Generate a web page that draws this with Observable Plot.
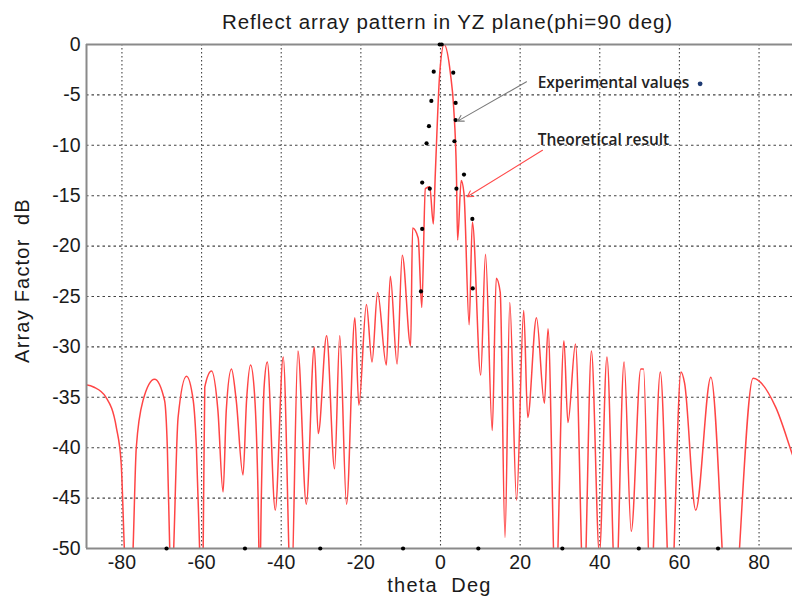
<!DOCTYPE html>
<html><head><meta charset="utf-8">
<script src="https://cdn.jsdelivr.net/npm/d3@7"></script>
<script src="https://cdn.jsdelivr.net/npm/@observablehq/plot@0.6"></script>
<style>
body{margin:0;background:#fff;}
#chart{width:792px;height:601px;overflow:hidden;}
</style>
</head><body><div id="chart"></div>
<script>
// ---- data ----
const titleText = "Reflect array pattern in YZ plane(phi=90 deg)";
const xLabel = "theta  Deg";
const yLabel = "Array Factor  dB";
const xTicks = [-80, -60, -40, -20, 0, 20, 40, 60, 80];
const yTicks = [0, -5, -10, -15, -20, -25, -30, -35, -40, -45, -50];

// theoretical array factor (deg, dB)
const thetaTheory = [-90, -87, -84, -81.4, -80.2, -79.4, -78.3, -77.2, -76.4, -74.7, -71.8, -69.3, -68.6, -68.0, -67.5, -67.0, -65.9, -63.8, -62.1, -61.3, -60.5, -60.1, -59.6, -59.2, -57.5, -55.9, -54.6, -53.8, -52.5, -51.3, -49.6, -48.7, -47.7, -46.7, -45.8, -45.4, -45.0, -44.3, -43.5, -41.5, -39.5, -37.5, -35.8, -33.7, -31.7, -30.7, -28.6, -26.6, -25.3, -23.6, -21.5, -20.5, -18.6, -17.2, -15.8, -13.6, -12.6, -10.9, -9.6, -7.5, -7.0, -5.6, -4.7, -3.8, -2.7, -1.8, -1.3, -0.2, 0.9, 2.5, 3.3, 4.0, 4.3, 5.2, 5.9, 7.2, 8.0, 10.1, 11.3, 13.0, 14.0, 15.0, 16.2, 17.4, 19.1, 20.9, 21.9, 24.1, 26.1, 27.0, 28.9, 31.0, 32.0, 33.9, 36.0, 37.9, 39.9, 41.8, 44.0, 46.1, 47.9, 50.3, 51.0, 52.7, 55.2, 57.8, 60.4, 61.3, 64.1, 67.9, 72.7, 78.5, 84.2, 88.4, 90];
const afTheory = [-33.7, -34.0, -35.0, -38.0, -41.5, -50, -60, -50, -40, -35.3, -33.2, -35.3, -40, -50, -56, -50, -37, -32.9, -35.3, -40, -50, -55, -50, -34, -32.4, -36.3, -44.4, -36.3, -32.2, -35.3, -42.7, -35.3, -31.8, -34.7, -45, -54, -45, -34, -31.5, -46.2, -31.0, -55, -30.4, -45.6, -30.0, -38.6, -28.9, -42.1, -28.9, -45.6, -27.1, -35.8, -25.8, -31.5, -24.6, -31.8, -23.0, -31.7, -20.9, -29.9, -18.2, -19.2, -26.1, -14.3, -14.1, -17.8, -12.8, -2.9, 0, -2.9, -6.2, -12.8, -19.4, -13.5, -14.8, -27.8, -17.6, -32.8, -20.8, -38.3, -23.2, -24.6, -48.9, -25.6, -45.2, -26.4, -37.0, -27.1, -35.6, -28.2, -55, -29.4, -37.5, -29.7, -55, -30.4, -50.5, -31.0, -55, -31.5, -48.3, -32.2, -32.2, -55, -32.5, -56, -32.5, -33.6, -46.2, -33.0, -60, -33.1, -36.0, -40.7, -42.5];

// experimental values (deg, dB); points below -50 dB sit on the bottom edge
const thetaExp = [-0.2, 0.3, -1.7, 3.2, -2.3, 3.8, -2.9, 3.8, -3.5, 3.5, -4.6, -2.7, 5.9, 4.0, -4.6, 8.0, -4.9, 8.1, -68.8, -49.1, -30.2, -9.4, 9.5, 30.6, 49.8, 69.7];
const afExp = [0, 0, -2.7, -2.8, -5.6, -5.8, -8.1, -7.5, -9.8, -9.6, -13.7, -14.3, -12.9, -14.3, -18.3, -17.3, -24.5, -24.2, -50, -50, -50, -50, -50, -50, -50, -50];

// annotations
const noteText = ["Experimental values", "Theoretical result"];
const noteX = [24.4, 24.4];
const noteY = [-3.8, -9.5];
const arrowX1 = [21.6, 25.6];
const arrowY1 = [-3.7, -10.5];
const arrowX2 = [4.3, 6.7];
const arrowY2 = [-7.6, -15.1];
const arrowColor = ["#7a7a7a", "#ff4a4a"];
const legendDotX = [65.2];
const legendDotY = [-3.9];

// ---- build tables ----
const theory = thetaTheory.map((t, i) => ({theta: t, af: afTheory[i]}));
const exp = thetaExp.map((t, i) => ({theta: t, af: afExp[i]}));
const notes = noteText.map((s, i) => ({s, x: noteX[i], y: noteY[i]}));
const arrows = arrowX1.map((v, i) => ({x1: v, y1: arrowY1[i], x2: arrowX2[i], y2: arrowY2[i], c: arrowColor[i]}));
const legendDot = legendDotX.map((v, i) => ({x: v, y: legendDotY[i]}));
const xDomain = [-88.9, 88.4];

const chart = Plot.plot({
  width: 792,
  height: 601,
  marginLeft: 86,
  marginRight: 0,
  marginTop: 44,
  marginBottom: 53,
  x: {domain: xDomain, ticks: xTicks, tickSize: 0, tickPadding: 7, label: null, tickFormat: d => String(d)},
  y: {domain: [-50, 0], ticks: yTicks, tickSize: 0, tickPadding: 6, label: null, tickFormat: d => String(d)},
  style: {fontFamily: "'Liberation Sans', Arial, sans-serif", fontSize: "19.5px", color: "#1a1a1a", background: "#fff", overflow: "visible"},
  marks: [
    Plot.ruleX(xTicks, {stroke: "#222", strokeOpacity: 0.85, strokeDasharray: "1.6,2.4", strokeWidth: 1.1}),
    Plot.ruleY(yTicks.filter(v => v > -50 && v < 0), {stroke: "#222", strokeOpacity: 0.85, strokeDasharray: "2.5,3", strokeWidth: 1.1}),
    Plot.line(theory, {x: "theta", y: "af", stroke: "#ff4545", strokeWidth: 1.5, curve: "monotone-x", clip: true}),
    Plot.ruleY([0, -50], {stroke: "#8a8a8a", strokeWidth: 2}),
    Plot.ruleX([xDomain[0]], {stroke: "#8a8a8a", strokeWidth: 2}),
    Plot.dot(exp, {x: "theta", y: "af", r: 2.1, fill: "#000", stroke: null}),
    Plot.arrow(arrows, {x1: "x1", y1: "y1", x2: "x2", y2: "y2", stroke: "c", strokeWidth: 1.1, headLength: 9}),
    Plot.text(notes, {x: "x", y: "y", text: "s", textAnchor: "start", fontFamily: "'Open Sans', sans-serif", fontWeight: 600, fontSize: 15.5, fill: "#222"}),
    Plot.dot(legendDot, {x: "x", y: "y", r: 2.4, fill: "#1f3b73", stroke: null}),
    Plot.text([titleText], {frameAnchor: "top", lineAnchor: "middle", textAnchor: "middle", dy: -22, dx: 8, fontSize: 20.5, fill: "#1a1a1a"}),
    Plot.text([xLabel], {frameAnchor: "bottom", lineAnchor: "middle", textAnchor: "middle", dy: 37, fontSize: 20, fill: "#1a1a1a"}),
    Plot.text([yLabel], {frameAnchor: "left", lineAnchor: "middle", textAnchor: "middle", rotate: -90, dx: -64, dy: -16, fontSize: 20, fill: "#1a1a1a"})
  ]
});
// slightly wider letter spacing, like the reference typography
chart.querySelectorAll("text").forEach(t => {
  if (t.textContent === titleText) t.setAttribute("letter-spacing", "0.9");
  if (t.textContent === xLabel || t.textContent === yLabel) t.setAttribute("letter-spacing", "1.2");
});
document.getElementById("chart").appendChild(chart);
</script>
</body></html>
